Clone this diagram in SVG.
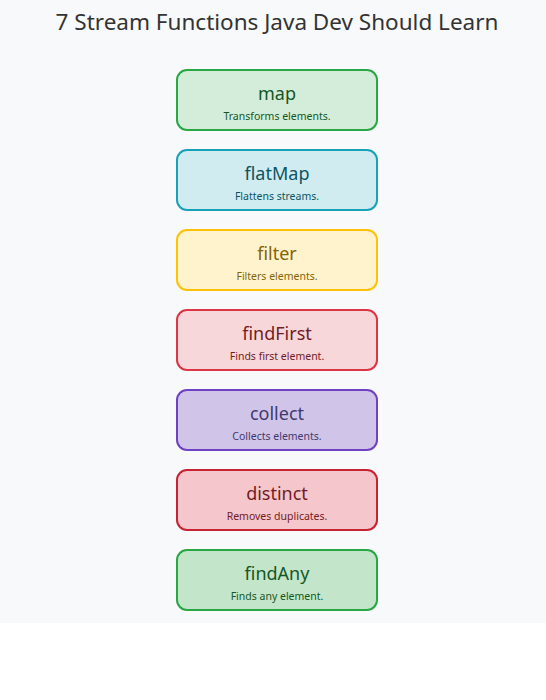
<svg xmlns="http://www.w3.org/2000/svg" width="546" height="700" viewBox="0 0 546 700">
<style>
.t{font-family:"Noto Sans","Open Sans","DejaVu Sans",sans-serif;text-anchor:middle}
.title{font-size:22.5px;fill:#333}
.n{font-size:18px}
.d{font-size:10.5px}
.b{stroke-width:2}
</style>
<rect x="0" y="0" width="546" height="623" fill="#f8f9fa"/>
<text class="t title" x="277" y="30">7 Stream Functions Java Dev Should Learn</text>
<g id="connectors"></g>
<g id="map"><rect class="b" x="177" y="70" width="200" height="60" rx="10" fill="#d4edda" stroke="#28a745"/><text class="t n" x="277" y="100" fill="#155724">map</text><text class="t d" x="277" y="120" fill="#155724">Transforms elements.</text></g>
<g id="flatMap"><rect class="b" x="177" y="150" width="200" height="60" rx="10" fill="#d1ecf1" stroke="#17a2b8"/><text class="t n" x="277" y="180" fill="#0c5460">flatMap</text><text class="t d" x="277" y="200" fill="#0c5460">Flattens streams.</text></g>
<g id="filter"><rect class="b" x="177" y="230" width="200" height="60" rx="10" fill="#fff3cd" stroke="#ffc107"/><text class="t n" x="277" y="260" fill="#856404">filter</text><text class="t d" x="277" y="280" fill="#856404">Filters elements.</text></g>
<g id="findFirst"><rect class="b" x="177" y="310" width="200" height="60" rx="10" fill="#f8d7da" stroke="#dc3545"/><text class="t n" x="277" y="340" fill="#721c24">findFirst</text><text class="t d" x="277" y="360" fill="#721c24">Finds first element.</text></g>
<g id="collect"><rect class="b" x="177" y="390" width="200" height="60" rx="10" fill="#d1c4e9" stroke="#6f42c1"/><text class="t n" x="277" y="420" fill="#3f3a6e">collect</text><text class="t d" x="277" y="440" fill="#3f3a6e">Collects elements.</text></g>
<g id="distinct"><rect class="b" x="177" y="470" width="200" height="60" rx="10" fill="#f5c6cb" stroke="#c82333"/><text class="t n" x="277" y="500" fill="#721c24">distinct</text><text class="t d" x="277" y="520" fill="#721c24">Removes duplicates.</text></g>
<g id="findAny"><rect class="b" x="177" y="550" width="200" height="60" rx="10" fill="#c3e6cb" stroke="#28a745"/><text class="t n" x="277" y="580" fill="#155724">findAny</text><text class="t d" x="277" y="600" fill="#155724">Finds any element.</text></g>
</svg>
